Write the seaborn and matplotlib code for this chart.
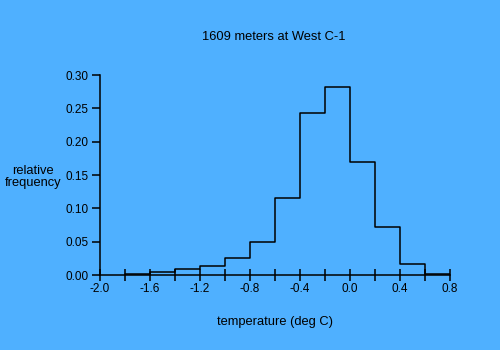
import matplotlib
matplotlib.use("Agg")
import matplotlib.pyplot as plt
import seaborn as sns
import numpy as np
import pandas as pd

bin_edges = [-1.8, -1.6, -1.4, -1.2, -1.0, -0.8, -0.6, -0.4, -0.2, 0.0, 0.2, 0.4, 0.6, 0.8]
bin_centers = [-1.7, -1.5, -1.3, -1.1, -0.9, -0.7, -0.5, -0.3, -0.1, 0.1, 0.3, 0.5, 0.7]
rel_freq = [0.001, 0.0045, 0.0085, 0.013, 0.025, 0.049, 0.1155, 0.2425, 0.2815, 0.169, 0.0715, 0.016, 0.001]
x_ticks = [-2.0, -1.6, -1.2, -0.8, -0.4, 0.0, 0.4, 0.8]
y_ticks = [0.00, 0.05, 0.10, 0.15, 0.20, 0.25, 0.30]

bg = "#4FB0FF"
sns.set_theme(style="ticks")
plt.rcParams['font.family'] = ['Liberation Sans', 'DejaVu Sans']

fig = plt.figure(figsize=(5, 3.5), dpi=100, facecolor=bg)
ax = fig.add_axes([0.2, 75/350, 0.7, 200/350])
ax.set_facecolor(bg)

df = pd.DataFrame({"t": bin_centers, "w": rel_freq})
sns.histplot(data=df, x="t", weights="w", bins=bin_edges, element="step",
             fill=False, color="black", linewidth=1.1, ax=ax)

ax.set_xlim(-2.0, 0.8)
ax.set_ylim(0, 0.30)
ax.set_xticks(np.arange(-2.0, 0.81, 0.2), minor=True)
ax.set_xticks(x_ticks)
ax.set_xticklabels([f"{v:.1f}" for v in x_ticks])
ax.set_yticks(y_ticks)
ax.set_yticklabels([f"{v:.2f}" for v in y_ticks])
for s in ["top", "right"]:
    ax.spines[s].set_visible(False)
for s in ["left", "bottom"]:
    ax.spines[s].set_color("black")
    ax.spines[s].set_linewidth(1.1)
ax.tick_params(axis="x", which="both", direction="inout", length=8, width=1.1, color="black",
               labelsize=8.5, labelcolor="black", pad=2)
ax.tick_params(axis="y", direction="out", length=6, width=1.1, color="black",
               labelsize=8.5, labelcolor="black", pad=2)
ax.set_xlabel("")
ax.set_ylabel("")
fig.text(274/500, 1 - 37/350, "1609 meters at West C-1", ha="center", va="center", fontsize=9.3, color="black")
fig.text(275/500, 1 - 322/350, "temperature (deg C)", ha="center", va="center", fontsize=9.3, color="black")
fig.text(33/500, 1 - 176.5/350, "relative\nfrequency", ha="center", va="center", fontsize=9.3,
         color="black", linespacing=1.0)

fig.savefig("out.png", dpi=100, facecolor=bg)
